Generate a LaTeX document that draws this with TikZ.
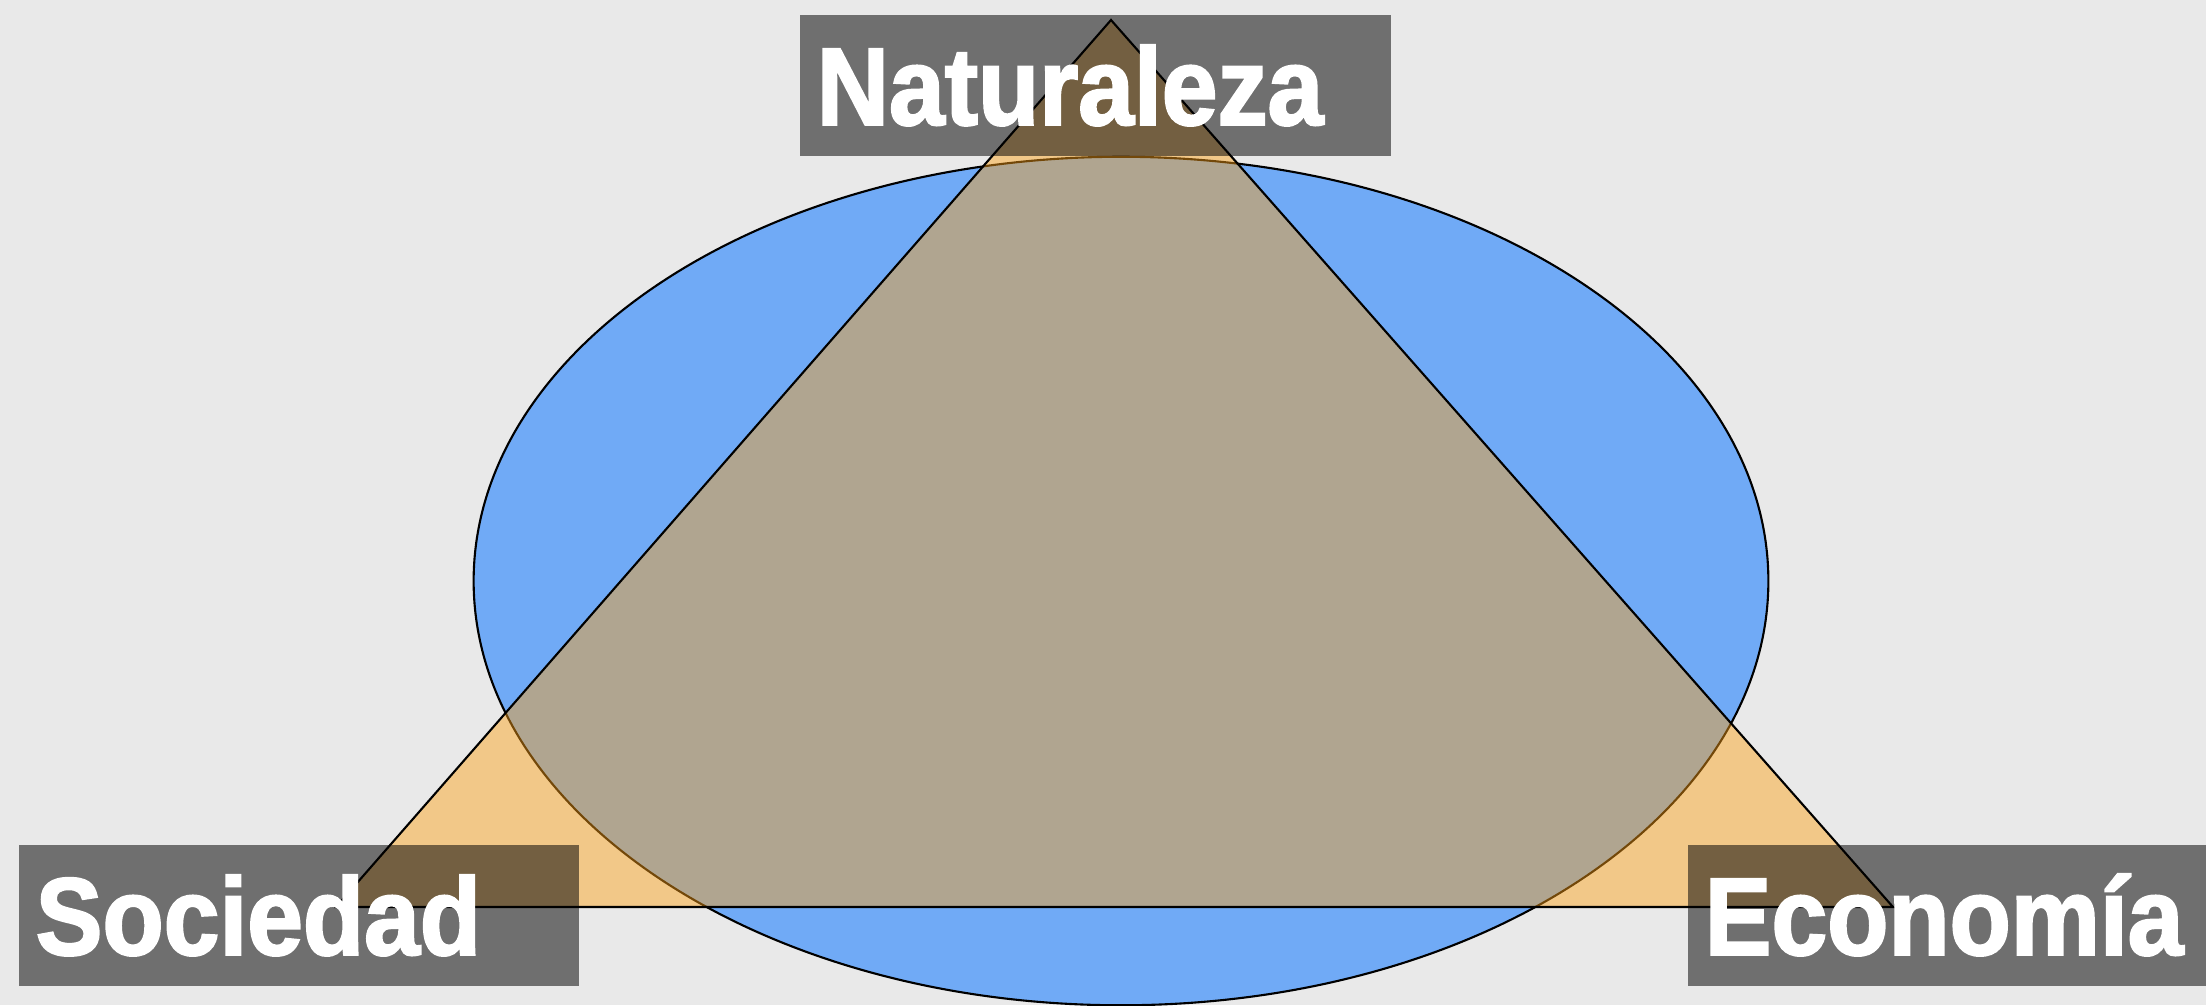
\documentclass[tikz,border=0pt]{standalone}
\usepackage{fontspec}
\setmainfont{Liberation Sans}
\newfontfamily\pillarfont[FakeStretch=0.91, FakeBold=2]{Liberation Sans Bold}
\definecolor{paper}{RGB}{233,233,233}
\definecolor{skyblue}{RGB}{112,170,246}
\definecolor{sandorange}{RGB}{255,160,20}
\tikzset{
    pillar/.style={fill=black, fill opacity=0.52, text opacity=1, text=white,
        font=\pillarfont\fontsize{31.3}{33}\selectfont, anchor=north west,
        inner xsep=0.17cm, inner ysep=0pt, text height=1.1cm, text depth=0.31cm, align=left},
}
\begin{document}
\begin{tikzpicture}[x=0.01cm, y=-0.01cm]
    % Background
    \useasboundingbox (0,0) rectangle (2206,1005);
    \clip (0,0) rectangle (2206,1005);
    \fill[paper] (0,0) rectangle (2206,1005);

    % Ellipse - Blue
    \draw[fill=skyblue, line width=0.6pt] (1121,581) ellipse [x radius=6.47cm, y radius=4.24cm];

    % Triangle - Orange
    \coordinate (top) at (1111,20);
    \coordinate (left) at (336,907);
    \coordinate (right) at (1893,907);
    \draw[fill=sandorange, fill opacity=0.45, line width=0.6pt] (left) -- (top) -- (right) -- cycle;

    % Labels
    \node[pillar, text width=5.57cm] (nat) at (799,14) {Naturaleza};
    \node[pillar, text width=5.26cm] (soc) at (18,844) {Sociedad};
    \node[pillar, text width=5.4cm] (eco) at (1687,844) {Economía};
\end{tikzpicture}
\end{document}
